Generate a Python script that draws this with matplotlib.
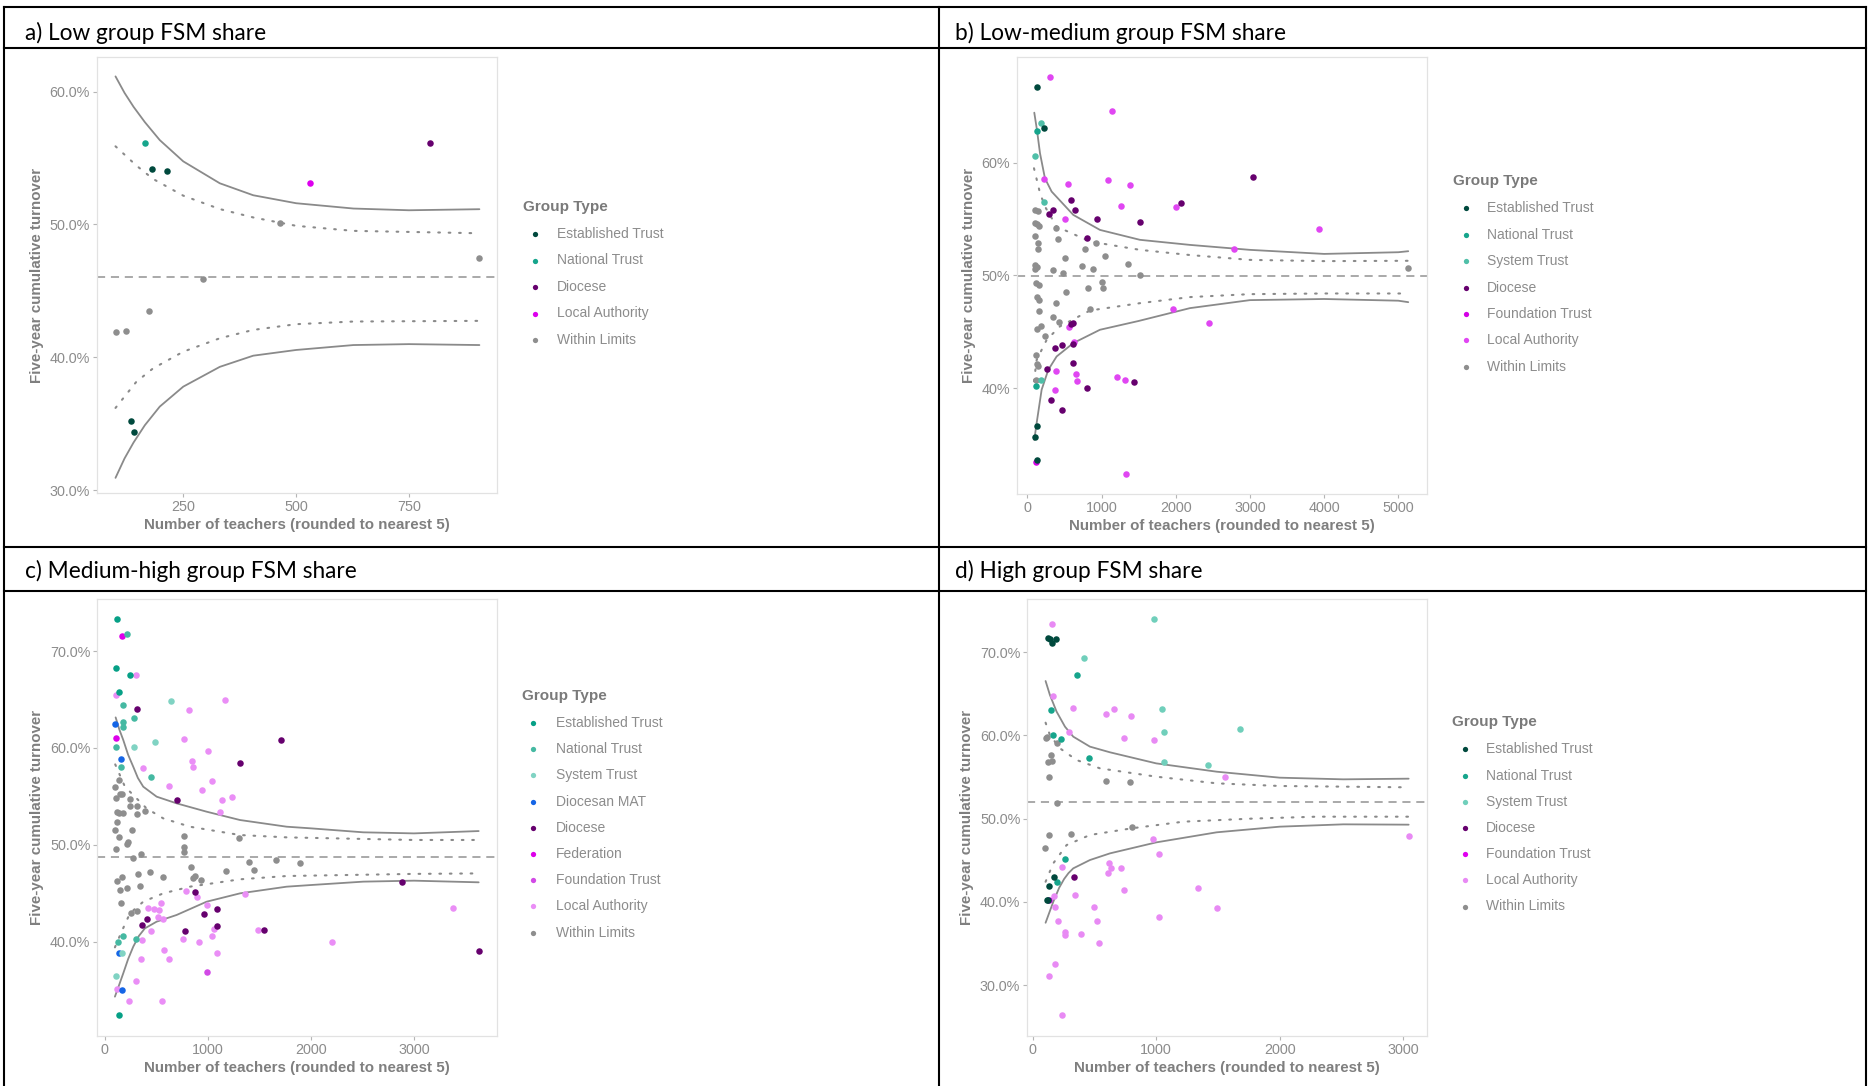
import matplotlib
matplotlib.use("Agg")
import matplotlib.pyplot as plt
from matplotlib.lines import Line2D
from matplotlib.ticker import FuncFormatter

plt.rcParams['font.family'] = ['Liberation Sans', 'DejaVu Sans']

W, H = 1868, 1086

group_names = {"ET": "Established Trust", "NT": "National Trust", "ST": "System Trust",
               "DM": "Diocesan MAT", "D": "Diocese", "F": "Federation",
               "FT": "Foundation Trust", "LA": "Local Authority", "WL": "Within Limits"}

# ---------------- a) Low group FSM share
a_title = "a) Low group FSM share"
a_mean = 46.04
a_wl = [(100, 41.9), (124, 42.0), (175, 43.5), (294, 45.9), (465, 50.1), (906, 47.5)]
a_et = [(180, 54.2), (215, 54.0), (135, 35.2), (140, 34.4)]
a_nt = [(165, 56.1)]
a_d = [(796, 56.1)]
a_la = [(530, 53.1)]
a_up_solid = [(100, 61.14), (120, 59.9), (140, 58.85), (165, 57.7), (198, 56.35), (250, 54.75),
              (331, 53.1), (405, 52.2), (500, 51.6), (627, 51.2), (750, 51.07), (906, 51.15)]
a_lo_solid = [(100, 30.94), (120, 32.4), (140, 33.6), (165, 34.9), (198, 36.3), (250, 37.8),
              (331, 39.29), (405, 40.13), (500, 40.56), (627, 40.93), (750, 41.0), (906, 40.93)]
a_up_dot = [(100, 55.88), (146, 54.44), (183, 53.43), (250, 52.17), (331, 51.16), (405, 50.53),
            (500, 49.9), (627, 49.52), (906, 49.34)]
a_lo_dot = [(100, 36.2), (146, 38.16), (183, 39.17), (250, 40.43), (331, 41.44), (405, 42.07),
            (500, 42.5), (627, 42.7), (906, 42.75)]

# ---------------- b) Low-medium group FSM share
b_title = "b) Low-medium group FSM share"
b_mean = 49.9
b_wl = [(103, 55.8), (148, 55.7), (99, 54.68), (135, 54.56), (162, 54.4), (108, 53.53), (139, 52.85),
        (148, 52.38), (103, 50.93), (135, 50.78), (108, 50.55), (117, 49.3), (153, 49.16), (126, 48.12),
        (153, 47.83), (162, 46.8), (189, 45.52), (135, 45.23), (238, 44.58), (117, 42.95), (126, 42.16),
        (148, 41.92), (117, 40.74), (386, 54.24), (418, 53.23), (350, 50.49), (508, 51.52), (476, 50.19),
        (517, 48.48), (386, 47.53), (350, 46.26), (422, 45.82), (777, 52.32), (732, 50.84), (925, 52.9),
        (889, 50.58), (822, 48.89), (844, 47.0), (1047, 51.73), (1006, 49.37), (1024, 48.92),
        (1352, 50.99), (1518, 50.01), (5134, 50.66)]
b_et = [(135, 66.74), (225, 63.1), (130, 36.63), (99, 35.63), (126, 33.62)]
b_nt = [(126, 62.84), (112, 40.2)]
b_st = [(180, 63.49), (108, 60.59), (229, 56.5), (180, 40.74)]
b_d = [(593, 56.7), (647, 55.8), (350, 55.8), (296, 55.48), (943, 55.0), (1518, 54.7), (804, 53.32),
       (2075, 56.45), (3037, 58.76), (1437, 40.53), (593, 45.7), (620, 45.73), (377, 43.52),
       (467, 43.81), (620, 43.87), (620, 42.24), (265, 41.68), (809, 39.97), (323, 38.94), (467, 38.08)]
b_ft = [(121, 33.41)]
b_la = [(305, 67.6), (1136, 64.6), (225, 58.55), (552, 58.1), (1091, 58.46), (1383, 58.0),
        (1258, 56.16), (508, 55.0), (2003, 56.1), (3926, 54.12), (2781, 52.35), (1967, 46.97),
        (2453, 45.76), (1204, 40.97), (1312, 40.68), (1325, 32.4), (566, 45.38), (629, 44.08),
        (382, 41.54), (651, 41.21), (674, 40.62), (377, 39.85)]
b_up_solid = [(94, 64.43), (130, 62.9), (171, 60.83), (238, 58.6), (328, 57.43), (620, 55.36),
              (979, 54.03), (1518, 53.15), (2192, 52.7), (3000, 52.26), (4000, 51.9), (5000, 52.05),
              (5134, 52.14)]
b_lo_solid = [(94, 35.4), (126, 36.9), (193, 39.85), (283, 41.62), (395, 42.8), (620, 43.99),
              (979, 45.17), (1500, 45.95), (2192, 47.09), (3000, 47.8), (4000, 47.9), (5000, 47.75),
              (5134, 47.62)]
b_up_dot = [(90, 59.5), (171, 57.3), (238, 56.1), (395, 54.33), (845, 53.0), (1518, 52.26),
            (2192, 51.8), (3000, 51.37), (4000, 51.26), (5134, 51.29)]
b_lo_dot = [(90, 40.6), (126, 42.5), (261, 44.28), (440, 45.47), (845, 46.88), (1518, 47.53),
            (2192, 48.07), (3000, 48.33), (4000, 48.39), (5134, 48.39)]

# ---------------- c) Medium-high group FSM share
c_title = "c) Medium-high group FSM share"
c_mean = 48.71
c_wl = [(97, 55.93), (133, 56.69), (107, 54.8), (146, 55.21), (165, 55.21), (113, 53.42), (139, 53.25),
        (172, 53.25), (113, 52.39), (97, 51.53), (133, 50.84), (107, 49.57), (243, 54.73), (243, 54.04),
        (314, 54.04), (314, 53.14), (388, 53.49), (259, 51.49), (227, 50.32), (217, 50.05), (275, 48.6),
        (346, 49.05), (767, 50.91), (767, 49.74), (767, 49.29), (1298, 50.67), (120, 46.26),
        (162, 46.71), (146, 45.34), (155, 43.96), (210, 45.51), (317, 46.95), (340, 45.78),
        (437, 47.16), (566, 46.71), (252, 42.93), (307, 43.17), (835, 47.74), (858, 46.54),
        (874, 46.78), (929, 46.37), (1171, 47.3), (1401, 48.26), (1450, 47.4), (1657, 48.43),
        (1893, 48.16)]
c_et = [(113, 73.3), (107, 68.28), (243, 67.52), (139, 65.73), (133, 32.4)]
c_nt = [(210, 71.72), (172, 64.46), (278, 63.05), (172, 62.67), (172, 62.19), (110, 60.09),
        (155, 58.0), (443, 57.0), (301, 40.31), (172, 40.55), (126, 39.93)]
c_st = [(644, 64.84), (278, 60.09), (485, 60.61), (168, 38.87), (107, 36.46)]
c_dm = [(100, 62.43), (152, 58.82), (133, 38.83), (165, 35.0)]
c_d = [(307, 64.0), (1307, 58.44), (1705, 60.82), (696, 54.62), (874, 45.16), (404, 42.31),
       (356, 41.69), (777, 41.14), (964, 42.86), (1084, 43.37), (1084, 41.65), (1544, 41.21),
       (2880, 46.2), (3634, 39.07)]
c_f = [(162, 71.55), (107, 61.06)]
c_ft = [(987, 36.87)]
c_la = [(301, 67.49), (107, 65.5), (819, 63.91), (1162, 64.94), (770, 60.88), (366, 57.89),
        (997, 59.68), (841, 58.65), (858, 58.06), (1035, 56.62), (625, 56.07), (942, 55.62),
        (1133, 54.66), (1230, 54.97), (1113, 53.39), (783, 45.23), (896, 44.65), (1362, 44.89),
        (987, 43.79), (540, 43.96), (421, 43.44), (476, 43.37), (527, 43.27), (566, 42.34),
        (518, 42.51), (450, 41.14), (1058, 41.28), (356, 40.17), (760, 40.24), (913, 39.97),
        (1042, 40.59), (573, 39.14), (618, 38.25), (349, 38.25), (1084, 38.83), (113, 35.08),
        (304, 35.91), (230, 33.85), (550, 33.85), (1489, 41.17), (2204, 39.93), (3382, 43.44)]
c_up_solid = [(104, 63.15), (140, 61.9), (178, 60.82), (225, 59.3), (275, 58.06), (320, 56.9),
              (372, 56.0), (502, 54.97), (696, 54.28), (987, 53.42), (1311, 52.56), (1764, 51.87),
              (2000, 51.7), (2508, 51.29), (3000, 51.18), (3628, 51.42)]
c_lo_solid = [(97, 34.33), (140, 35.6), (178, 36.74), (225, 38.2), (275, 39.49), (330, 40.6),
              (388, 41.38), (502, 42.07), (696, 42.76), (987, 44.13), (1311, 44.99), (1764, 45.68),
              (2000, 45.85), (2508, 46.2), (3000, 46.3), (3628, 46.13)]
c_up_dot = [(100, 58.3), (194, 56.0), (259, 55.31), (404, 53.76), (566, 52.73), (825, 51.87),
            (1311, 51.01), (1764, 50.77), (3000, 50.5), (3628, 50.5)]
c_lo_dot = [(97, 39.42), (162, 41.04), (243, 42.93), (372, 44.13), (566, 44.99), (825, 45.68),
            (1311, 46.44), (1764, 46.78), (3000, 47.0), (3628, 47.05)]

# ---------------- d) High group FSM share
d_title = "d) High group FSM share"
d_mean = 52.0
d_wl = [(108, 59.74), (119, 59.86), (194, 59.14), (121, 56.85), (148, 57.65), (154, 56.97),
        (135, 54.97), (591, 54.53), (788, 54.37), (194, 51.88), (801, 48.96), (130, 48.08),
        (308, 48.12), (103, 46.51)]
d_et = [(121, 71.68), (140, 71.6), (154, 71.08), (189, 71.6), (173, 42.95), (135, 41.85),
        (113, 40.28), (127, 40.28)]
d_nt = [(356, 67.31), (146, 63.03), (162, 60.1), (227, 59.58), (459, 57.33), (259, 45.19), (194, 42.34)]
d_st = [(985, 74.0), (413, 69.36), (1044, 63.19), (1060, 60.46), (1675, 60.78), (1066, 56.77),
        (1422, 56.49)]
d_d = [(332, 42.95)]
d_ft = [(132, 40.28)]
d_la = [(159, 73.37), (167, 64.79), (326, 63.27), (591, 62.59), (656, 63.15), (796, 62.34),
        (294, 60.38), (739, 59.74), (982, 59.46), (1557, 54.97), (971, 47.52), (3046, 47.92),
        (1023, 45.76), (618, 44.63), (637, 44.03), (612, 43.51), (715, 44.03), (742, 41.38),
        (1338, 41.62), (237, 44.15), (173, 40.69), (343, 40.78), (178, 39.4), (496, 39.4),
        (1492, 39.3), (1025, 38.18), (202, 37.7), (523, 37.7), (259, 36.41), (262, 36.01),
        (389, 36.13), (540, 35.09), (178, 32.48), (130, 31.08), (240, 26.35)]
d_up_solid = [(105, 66.55), (140, 64.87), (194, 62.87), (262, 61.06), (329, 59.86), (464, 58.66),
              (626, 57.98), (1000, 56.65), (1489, 55.65), (2000, 54.93), (2515, 54.73), (3043, 54.81)]
d_lo_solid = [(105, 37.49), (167, 40.0), (215, 41.7), (255, 42.75), (290, 43.45), (329, 44.03),
              (464, 45.03), (626, 45.83), (1000, 47.15), (1489, 48.36), (2000, 49.04), (2515, 49.32),
              (3043, 49.28)]
d_up_dot = [(105, 61.54), (140, 60.06), (221, 58.46), (356, 57.05), (545, 56.05), (1000, 55.05),
            (1489, 54.25), (2000, 53.93), (3043, 53.77)]
d_lo_dot = [(105, 42.42), (167, 44.63), (275, 46.83), (464, 48.04), (801, 48.84), (1220, 49.64),
            (1759, 50.0), (2299, 50.24), (3043, 50.24)]

# colours per panel (each panel has its own palette in the original)
a_colors = {"ET": "#00493d", "NT": "#16a58c", "D": "#66006e", "LA": "#dd00ee", "WL": "#8e8e8e"}
b_colors = {"ET": "#00493d", "NT": "#16a58c", "ST": "#4fbfa8", "D": "#66006e",
            "FT": "#d400e6", "LA": "#e046f2", "WL": "#8e8e8e"}
c_colors = {"ET": "#06a086", "NT": "#45b9a2", "ST": "#80d3c3", "DM": "#1565e6", "D": "#66006e",
            "F": "#dd00ea", "FT": "#d24ae6", "LA": "#ea8ef6", "WL": "#8e8e8e"}
d_colors = {"ET": "#00493d", "NT": "#16a58c", "ST": "#70cfbb", "D": "#66006e",
            "FT": "#e000f0", "LA": "#e88af4", "WL": "#8e8e8e"}


def fx(x):
    return x / W


def fy(y):
    return 1 - y / H


fig = plt.figure(figsize=(W / 100, H / 100), dpi=100)


def draw_panel(box, xlim, ylim, xticks, yticks, yfmt, groups, colors, curves, mean):
    left, top, right, bottom = box
    ax = fig.add_axes([fx(left), fy(bottom), (right - left) / W, (bottom - top) / H])
    up_s, lo_s, up_d, lo_d = curves
    for c in (up_s, lo_s):
        ax.plot(*zip(*c), color="#8a8a8a", lw=1.3, zorder=2, solid_joinstyle="round",
                solid_capstyle="round")
    for c in (up_d, lo_d):
        ax.plot(*zip(*c), color="#8a8a8a", lw=1.5, ls=(0, (0.8, 4.2)), zorder=2,
                dash_capstyle="round")
    ax.axhline(mean, color="#a3a3a3", lw=1.3, ls=(0, (4.5, 3.2)), zorder=2)
    for code, pts in groups:
        xs, ys = zip(*pts)
        ax.scatter(xs, ys, s=22, color=colors[code], linewidths=0, zorder=3)
    ax.set_xlim(*xlim)
    ax.set_ylim(*ylim)
    ax.set_xticks(xticks)
    ax.set_yticks(yticks)
    ax.yaxis.set_major_formatter(FuncFormatter(lambda v, p: yfmt.format(v)))
    for s in ax.spines.values():
        s.set_color("#e2e2e2")
        s.set_linewidth(0.9)
    ax.tick_params(length=2.8, width=0.8, color="#b5b5b5", labelcolor="#8c8c8c",
                   labelsize=10.4, pad=2.2)
    ax.set_xlabel("Number of teachers (rounded to nearest 5)", fontsize=10.9, fontweight="bold",
                  color="#7f7f7f", labelpad=3)
    ax.set_ylabel("Five-year cumulative turnover", fontsize=10.9, fontweight="bold",
                  color="#7f7f7f", labelpad=4)
    return ax


def draw_legend(title_x, title_y, marker_x, text_x, first_y, step, order, colors):
    fig.text(fx(title_x), fy(title_y), "Group Type", fontsize=11, fontweight="bold",
             color="#7a7a7a", va="center", ha="left")
    for i, code in enumerate(order):
        y = first_y + i * step
        fig.add_artist(Line2D([fx(marker_x)], [fy(y)], transform=fig.transFigure, marker="o",
                              ms=3.8, color=colors[code], lw=0, mec="none"))
        fig.text(fx(text_x), fy(y), group_names[code], fontsize=10, color="#8c8c8c",
                 va="center", ha="left")


# panel a
draw_panel((97, 57, 497, 493), (59, 945), (29.8, 62.6), [250, 500, 750], [30, 40, 50, 60], "{:.1f}%",
           [("WL", a_wl), ("LA", a_la), ("D", a_d), ("NT", a_nt), ("ET", a_et)], a_colors,
           (a_up_solid, a_lo_solid, a_up_dot, a_lo_dot), a_mean)
draw_legend(523, 207, 535, 557, 234, 26.5, ["ET", "NT", "D", "LA", "WL"], a_colors)

# panel b
draw_panel((1016.7, 57, 1427, 494), (-143, 5387), (30.6, 69.37), [0, 1000, 2000, 3000, 4000, 5000],
           [40, 50, 60], "{:.0f}%",
           [("WL", b_wl), ("LA", b_la), ("FT", b_ft), ("D", b_d), ("ST", b_st), ("NT", b_nt),
            ("ET", b_et)], b_colors,
           (b_up_solid, b_lo_solid, b_up_dot, b_lo_dot), b_mean)
draw_legend(1452.7, 181, 1465.7, 1486.7, 208.3, 26.4, ["ET", "NT", "ST", "D", "FT", "LA", "WL"],
            b_colors)

# panel c
draw_panel((97.3, 599, 497.3, 1035.7), (-74, 3809), (30.3, 75.37), [0, 1000, 2000, 3000],
           [40, 50, 60, 70], "{:.1f}%",
           [("WL", c_wl), ("LA", c_la), ("FT", c_ft), ("F", c_f), ("D", c_d), ("DM", c_dm),
            ("ST", c_st), ("NT", c_nt), ("ET", c_et)], c_colors,
           (c_up_solid, c_lo_solid, c_up_dot, c_lo_dot), c_mean)
draw_legend(521.8, 696, 532.5, 556, 723, 26.2, ["ET", "NT", "ST", "DM", "D", "F", "FT", "LA", "WL"],
            c_colors)

# panel d
draw_panel((1027.3, 599, 1427.3, 1035.7), (-43, 3194), (23.91, 76.41), [0, 1000, 2000, 3000],
           [30, 40, 50, 60, 70], "{:.1f}%",
           [("WL", d_wl), ("LA", d_la), ("FT", d_ft), ("D", d_d), ("ST", d_st), ("NT", d_nt),
            ("ET", d_et)], d_colors,
           (d_up_solid, d_lo_solid, d_up_dot, d_lo_dot), d_mean)
draw_legend(1452, 722, 1465.3, 1485.6, 749.3, 26.2, ["ET", "NT", "ST", "D", "FT", "LA", "WL"],
            d_colors)

# table frame around the four panels
frame = dict(transform=fig.transFigure, color="black", lw=1.5, solid_capstyle="projecting")
for y in (7, 48, 547, 591):
    fig.add_artist(Line2D([fx(4), fx(1866)], [fy(y), fy(y)], **frame))
for x in (4, 939, 1866):
    fig.add_artist(Line2D([fx(x), fx(x)], [fy(7), fy(1086)], **frame))

hdr = dict(fontsize=16.3, color="black", family=["Lato", "DejaVu Sans"], va="baseline", ha="left")
fig.text(fx(25), fy(40), a_title, **hdr)
fig.text(fx(955), fy(40), b_title, **hdr)
fig.text(fx(25), fy(578), c_title, **hdr)
fig.text(fx(955), fy(578), d_title, **hdr)

fig.savefig("out.png", dpi=100)
